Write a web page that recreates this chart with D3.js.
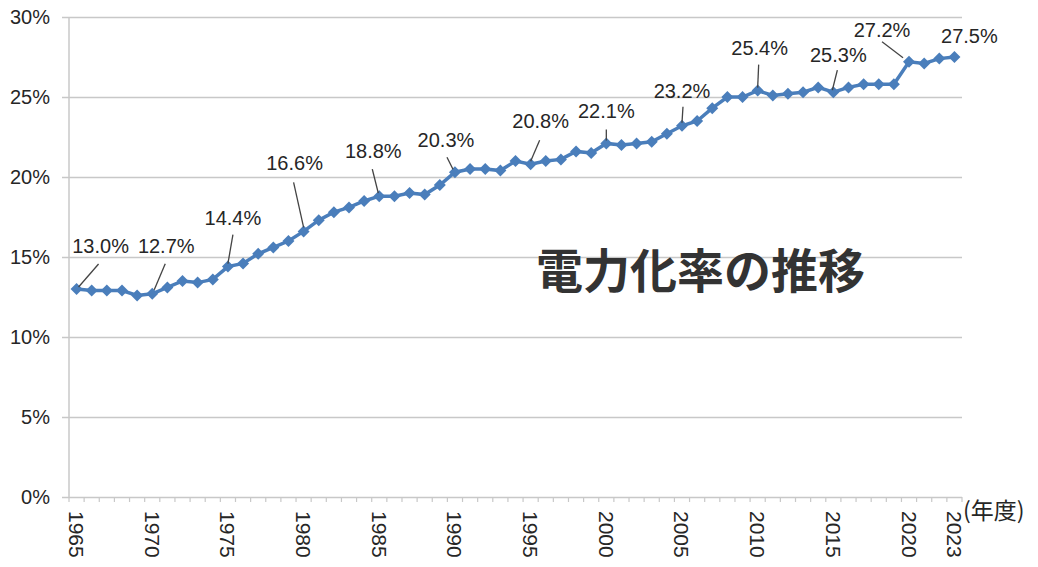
<!DOCTYPE html>
<html lang="ja">
  <head>
    <meta charset="UTF-8" />
    <title>電力化率の推移</title>
    <script src="https://cdn.jsdelivr.net/npm/d3@7/dist/d3.min.js"></script>
    <style>
      body { margin: 0; background: #fff; }
      svg text { font-family: "Liberation Sans", Arial, sans-serif; fill: #262626; }
      .grid line { stroke: #c8c8c8; stroke-width: 1.5; }
    </style>
  </head>

  <body>
    <div id="chart"></div>

    <script>
    // data: 電力化率 (%), fiscal years 1965-2023
    var years = d3.range(1965, 2024);
    var rates = [
      13.0, 12.9, 12.9, 12.9, 12.6, 12.7, 13.1, 13.5, 13.4, 13.6,
      14.4, 14.6, 15.2, 15.6, 16.0, 16.6, 17.3, 17.8, 18.1, 18.5,
      18.8, 18.8, 19.0, 18.9, 19.5, 20.3, 20.5, 20.5, 20.4, 21.0,
      20.8, 21.0, 21.1, 21.6, 21.5, 22.1, 22.0, 22.1, 22.2, 22.7,
      23.2, 23.5, 24.3, 25.0, 25.0, 25.4, 25.1, 25.2, 25.3, 25.6,
      25.3, 25.6, 25.8, 25.8, 25.8, 27.2, 27.1, 27.4, 27.5
    ];
    var yTicks = [0, 5, 10, 15, 20, 25, 30];
    var xTickYears = [1965, 1970, 1975, 1980, 1985, 1990, 1995, 2000, 2005, 2010, 2015, 2020, 2023];
    var labelYears = [1965, 1970, 1975, 1980, 1985, 1990, 1995, 2000, 2005, 2010, 2015, 2020, 2023];

    // where each callout text sits relative to its point, and its leader line
    var callout = {
      1965: { tx: 24, ty: -36, l: [22, -25, 2, -2] },
      1970: { tx: 14, ty: -41, l: [13, -30, 2, -4] },
      1975: { tx: 5, ty: -42, l: [5, -32, 0, -3] },
      1980: { tx: -9, ty: -61, l: [-10, -49, 0, -4] },
      1985: { tx: -6, ty: -38, l: [-7, -27, -1, -3] },
      1990: { tx: -9, ty: -25, l: [-8, -15, -2, -3] },
      1995: { tx: 10, ty: -36, l: [9, -24, 0, -3] },
      2000: { tx: 0, ty: -25, l: [0, -14, 0, -3] },
      2005: { tx: 0, ty: -28, l: [1, -19, 0, -3] },
      2010: { tx: 2, ty: -36, l: [1, -26, 0, -3] },
      2015: { tx: 5, ty: -30, l: [4, -22, -1, -2] },
      2020: { tx: -27, ty: -25, l: [-27, -20, -6, -4] },
      2023: { tx: 15, ty: -14, l: null }
    };

    var width = 1038, height = 567;
    var margin = { top: 17, right: 76, bottom: 70, left: 69 };

    var svg = d3.select("#chart").append("svg")
      .attr("width", width)
      .attr("height", height);

    var xScale = d3.scaleBand()
      .domain(years)
      .range([margin.left, width - margin.right])
      .padding(0);

    var yScale = d3.scaleLinear()
      .domain([0, 30])
      .range([height - margin.bottom, margin.top]);

    function xc(yr) { return xScale(yr) + xScale.bandwidth() / 2; }

    // gridlines + y labels
    var yAxis = d3.axisLeft(yScale)
      .tickValues(yTicks)
      .tickSize(-(width - margin.left - margin.right))
      .tickSizeOuter(0)
      .tickFormat(function(d) { return d + "%"; });

    var gy = svg.append("g")
      .attr("class", "grid")
      .attr("transform", "translate(" + margin.left + ",0)")
      .call(yAxis);
    gy.select(".domain").remove();
    gy.selectAll(".tick line").attr("x1", -7);
    gy.selectAll(".tick text")
      .attr("x", -19)
      .attr("font-size", 20)
      .style("font-family", "Liberation Sans, Arial, sans-serif")
      .style("fill", "#262626");

    // y axis line
    svg.append("line")
      .attr("x1", margin.left).attr("x2", margin.left)
      .attr("y1", yScale(30)).attr("y2", yScale(0))
      .attr("stroke", "#c8c8c8").attr("stroke-width", 1.5);

    // x axis ticks at category boundaries
    svg.append("g")
      .selectAll("line")
      .data(years.concat([2024]))
      .enter().append("line")
      .attr("x1", function(d) { return d === 2024 ? width - margin.right : xScale(d); })
      .attr("x2", function(d) { return d === 2024 ? width - margin.right : xScale(d); })
      .attr("y1", yScale(0))
      .attr("y2", yScale(0) + 5)
      .attr("stroke", "#c8c8c8").attr("stroke-width", 1.2);

    // x labels, rotated
    svg.append("g")
      .selectAll("text")
      .data(xTickYears)
      .enter().append("text")
      .attr("transform", function(d) {
        return "translate(" + xc(d) + "," + (yScale(0) + 14) + ") rotate(90)";
      })
      .attr("dominant-baseline", "central")
      .attr("font-size", 21)
      .text(function(d) { return d; });

    svg.append("text")
      .attr("x", 963)
      .attr("y", yScale(0) + 12)
      .attr("dominant-baseline", "central")
      .attr("font-size", 23)
      .style("font-family", "'Noto Sans CJK JP', sans-serif")
      .text("(年度)");

    // line
    var line = d3.line()
      .x(function(d, i) { return xc(years[i]); })
      .y(function(d) { return yScale(d); });

    svg.append("path")
      .datum(rates)
      .attr("d", line)
      .attr("fill", "none")
      .attr("stroke", "#4a7ebb")
      .attr("stroke-width", 3.5);

    var diamond = d3.symbol().type(d3.symbolSquare).size(72);
    svg.append("g")
      .selectAll("path")
      .data(rates)
      .enter().append("path")
      .attr("d", diamond)
      .attr("transform", function(d, i) {
        return "translate(" + xc(years[i]) + "," + yScale(d) + ") rotate(45)";
      })
      .attr("fill", "#4a7ebb");

    // callouts
    labelYears.forEach(function(yr) {
      var v = rates[years.indexOf(yr)];
      var px = xc(yr), py = yScale(v);
      var c = callout[yr];
      if (c.l) {
        svg.append("line")
          .attr("x1", px + c.l[0]).attr("y1", py + c.l[1])
          .attr("x2", px + c.l[2]).attr("y2", py + c.l[3])
          .attr("stroke", "#444").attr("stroke-width", 1.3);
      }
      svg.append("text")
        .attr("x", px + c.tx)
        .attr("y", py + c.ty)
        .attr("text-anchor", "middle")
        .attr("font-size", 20)
        .text(v.toFixed(1) + "%");
    });

    // title
    svg.append("text")
      .attr("x", 536)
      .attr("y", 267)
      .attr("dominant-baseline", "central")
      .attr("font-size", 47)
      .attr("font-weight", "bold")
      .style("font-family", "'Noto Sans CJK JP', sans-serif")
      .style("fill", "#333")
      .text("電力化率の推移");
    </script>
  </body>
</html>
